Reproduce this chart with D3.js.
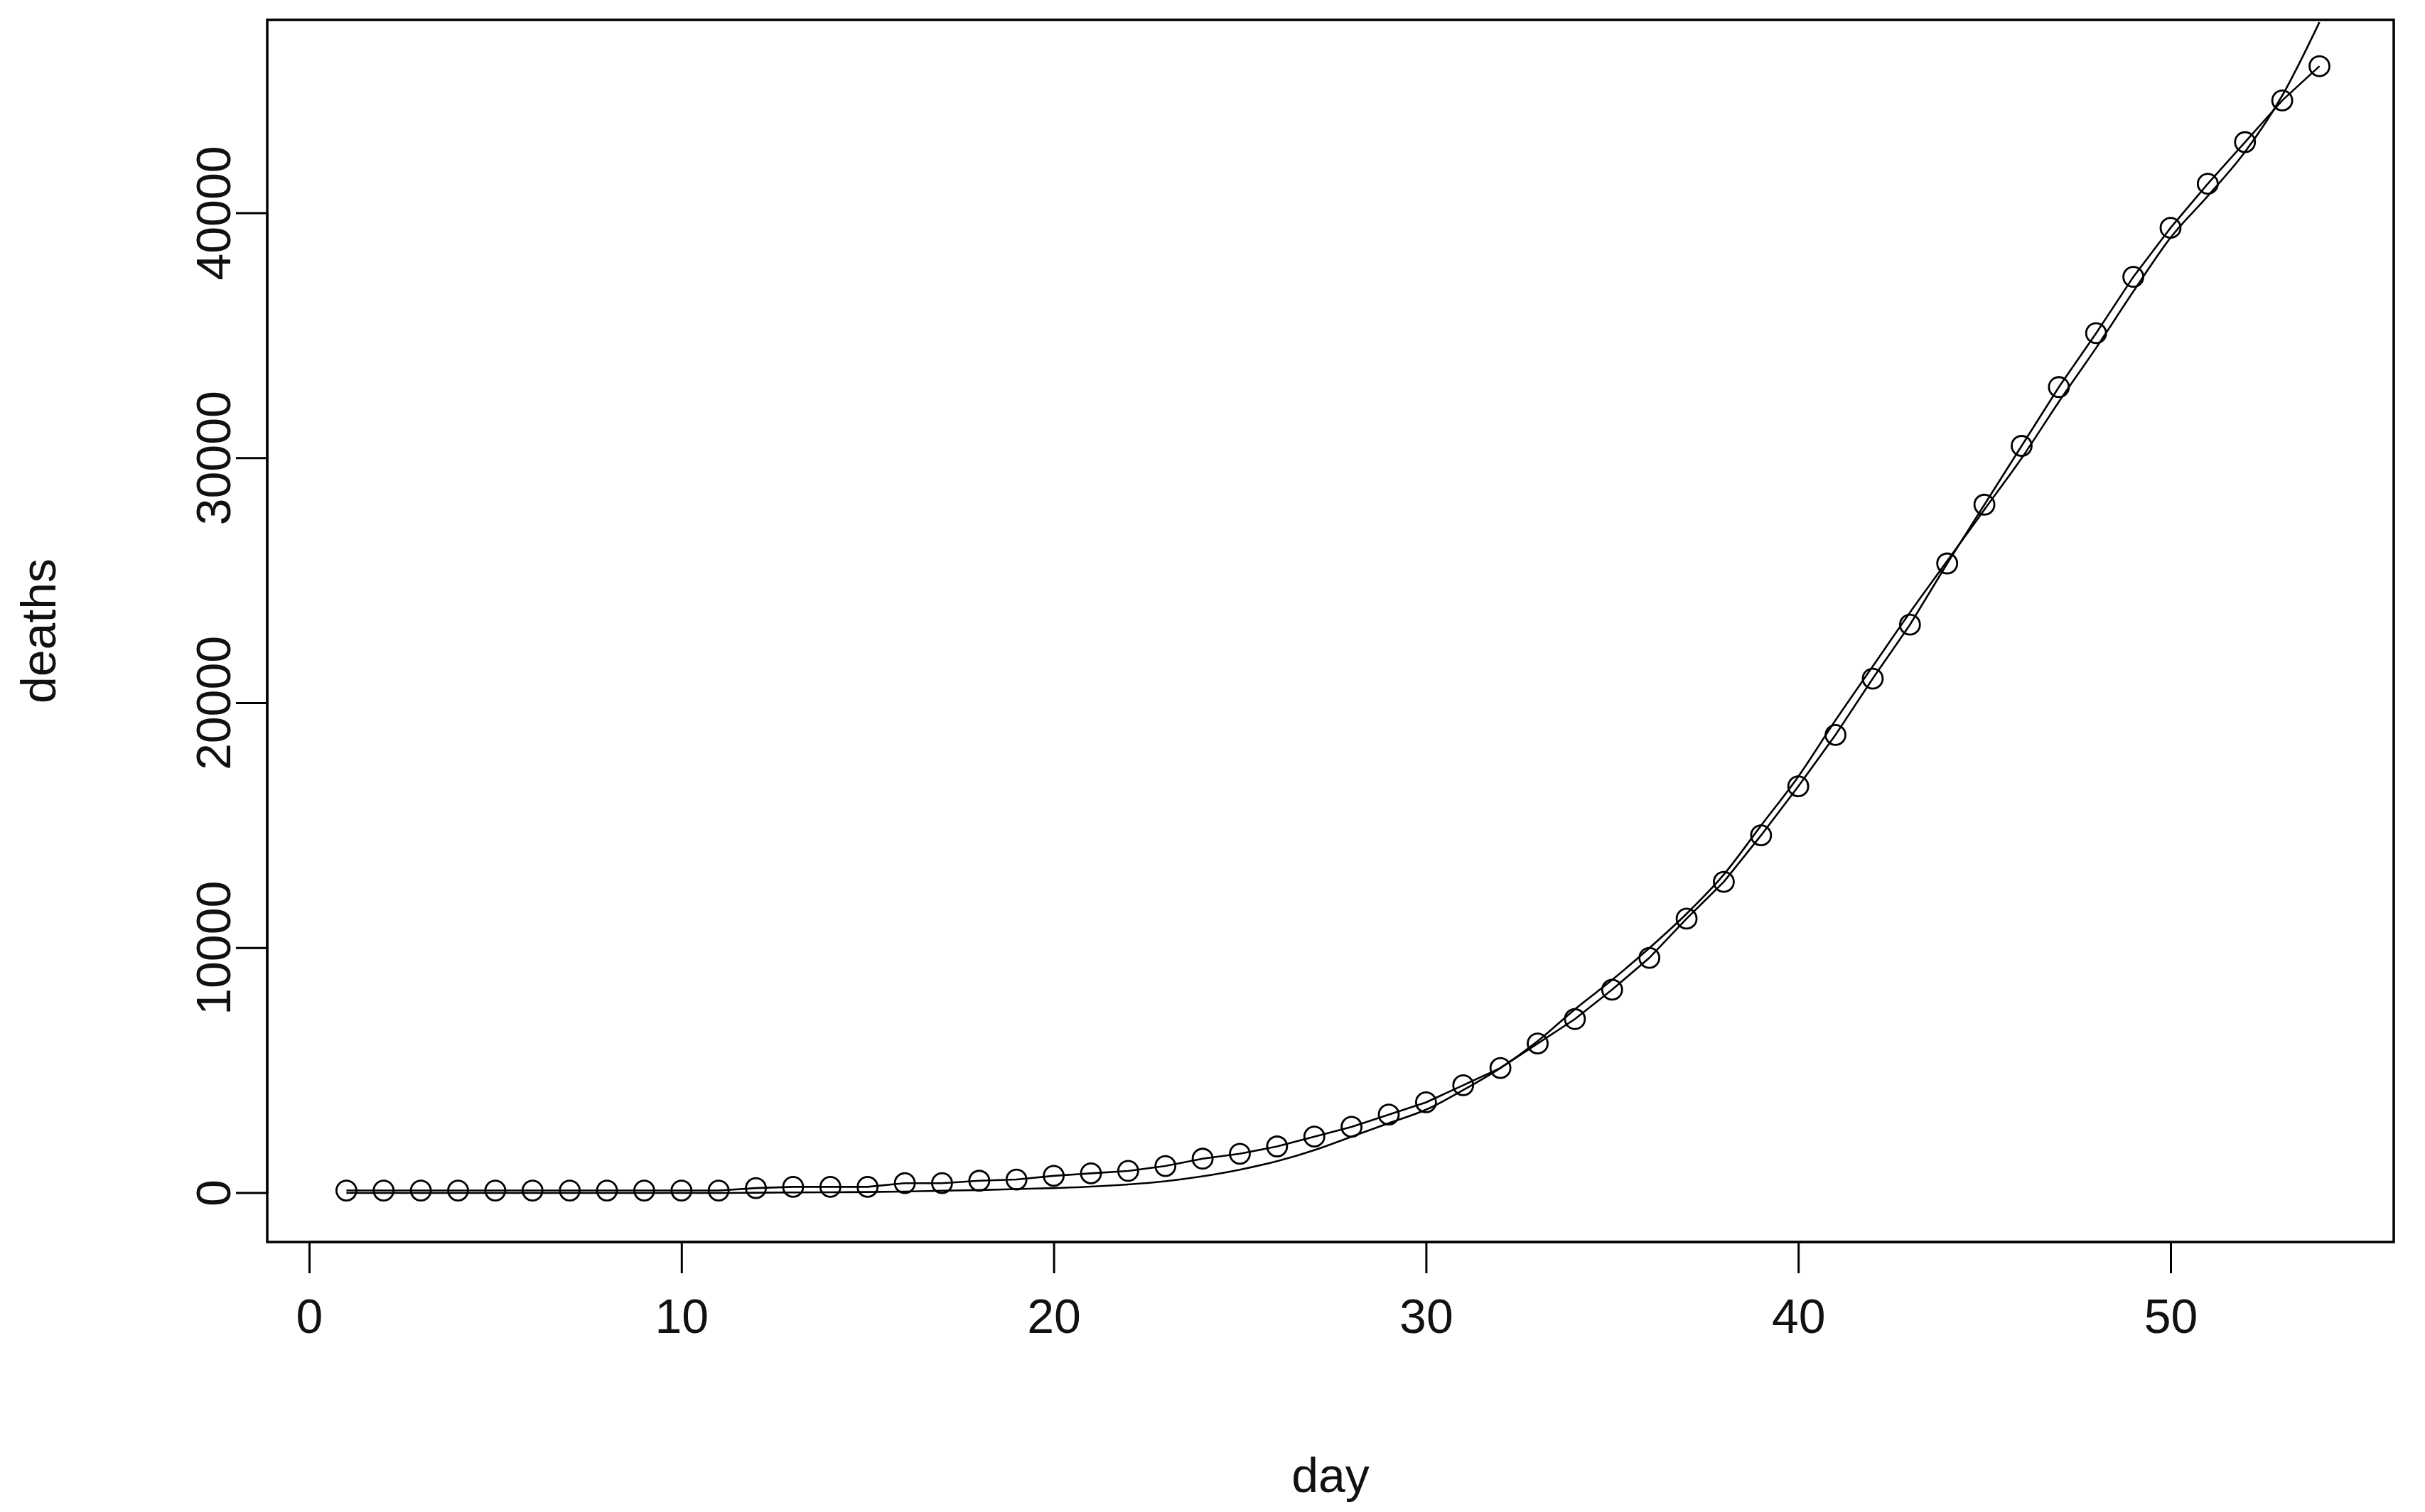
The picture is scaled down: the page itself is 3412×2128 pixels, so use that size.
<!DOCTYPE html>
<html>
<head>
<meta charset="utf-8">
<script src="https://cdn.jsdelivr.net/npm/d3@7"></script>
<style>
  body { margin: 0; background: white; }
  text { font-family: 'Liberation Sans', Arial, sans-serif; fill: #111; }
</style>
</head>
<body>
<div id="chart"></div>
<script>
var days = d3.range(1, 55)

var observed = [
  100, 100, 100, 100, 100, 100, 100, 100, 100, 100, 100, 200, 250, 250, 250,
  400, 400, 500, 550, 700, 800, 900, 1100, 1400, 1600, 1900, 2300, 2700, 3200,
  3700, 4400, 5100, 6100, 7100, 8300, 9600, 11200, 12700, 14600, 16600, 18700,
  21000, 23200, 25700, 28100, 30500, 32900, 35100, 37400, 39400, 41200, 42900,
  44600, 46000
]

// fitted curve
var fitted = [
  0, 0, 0, 0, 0, 0, 0, 0, 0, 0, 0, 10, 20, 30, 40, 60, 90, 120, 160, 200, 260,
  350, 480, 680, 950, 1300, 1750, 2300, 2850, 3400, 4200, 5100, 6200, 7500,
  8700, 10000, 11400, 13000, 15000, 17000, 19300, 21500, 23700, 25800, 27900,
  30000, 32300, 34500, 36800, 39000, 40700, 42500, 44800, 47800
]

var xTicks = [0, 10, 20, 30, 40, 50]
var yTicks = [0, 10000, 20000, 30000, 40000]

var W = 3412, H = 2128
var box = { left: 376, right: 3368, top: 28, bottom: 1748 }

var svg = d3.select('#chart').append('svg')
  .attr('width', W).attr('height', H)

var x = d3.scaleLinear().domain([0, 50]).range([435, 3054])
var y = d3.scaleLinear().domain([0, 40000]).range([1679, 300])

svg.append('defs').append('clipPath').attr('id', 'clip')
  .append('rect')
  .attr('x', box.left).attr('y', box.top)
  .attr('width', box.right - box.left).attr('height', box.bottom - box.top)

var plot = svg.append('g').attr('clip-path', 'url(#clip)')

var line = d3.line()
  .x(function(d, i) { return x(days[i]) })
  .y(function(d) { return y(d) })

plot.append('path')
  .datum(fitted)
  .attr('d', line.curve(d3.curveMonotoneX))
  .attr('fill', 'none').attr('stroke', '#000').attr('stroke-width', 2.6)

plot.append('path')
  .datum(observed)
  .attr('d', line.curve(d3.curveLinear))
  .attr('fill', 'none').attr('stroke', '#000').attr('stroke-width', 2.6)

plot.selectAll('.pt')
  .data(observed)
  .enter()
  .append('circle')
  .attr('class', 'pt')
  .attr('cx', function(d, i) { return x(days[i]) })
  .attr('cy', function(d) { return y(d) })
  .attr('r', 14)
  .attr('fill', 'none')
  .attr('stroke', '#000')
  .attr('stroke-width', 2.8)

svg.append('rect')
  .attr('x', box.left).attr('y', box.top)
  .attr('width', box.right - box.left).attr('height', box.bottom - box.top)
  .attr('fill', 'none').attr('stroke', '#000').attr('stroke-width', 3.5)

var xAxis = svg.append('g')
  .attr('transform', 'translate(0,' + box.bottom + ')')
  .call(d3.axisBottom(x).tickValues(xTicks).tickSize(44).tickPadding(36))
var yAxis = svg.append('g')
  .attr('transform', 'translate(' + box.left + ',0)')
  .call(d3.axisLeft(y).tickValues(yTicks).tickSize(44).tickPadding(30).tickFormat(d3.format('d')))

;[xAxis, yAxis].forEach(function(a) {
  a.select('.domain').attr('stroke', '#000').attr('stroke-width', 3)
  a.selectAll('.tick line').attr('stroke', '#000').attr('stroke-width', 3)
  a.selectAll('.tick text').attr('font-size', 68).attr('fill', '#111')
    .style('font-family', "'Liberation Sans', Arial, sans-serif")
})
xAxis.select('.domain').attr('d', 'M' + x(0) + ',0H' + x(50))
yAxis.select('.domain').attr('d', 'M0,' + y(0) + 'V' + y(40000))

yAxis.selectAll('.tick text')
  .attr('transform', function(d) { return 'rotate(-90,-76,' + y(d) + ')' })
  .attr('x', -76).attr('y', y).attr('dy', '0.35em')
  .attr('text-anchor', 'middle')
yAxis.selectAll('.tick').attr('transform', null)
yAxis.selectAll('.tick line').attr('y1', y).attr('y2', y)

svg.append('text')
  .attr('x', (box.left + box.right) / 2).attr('y', 2100)
  .attr('text-anchor', 'middle').attr('font-size', 68)
  .text('day')

svg.append('text')
  .attr('transform', 'translate(78,' + (box.top + box.bottom) / 2 + ') rotate(-90)')
  .attr('text-anchor', 'middle').attr('font-size', 68)
  .text('deaths')
</script>
</body>
</html>
